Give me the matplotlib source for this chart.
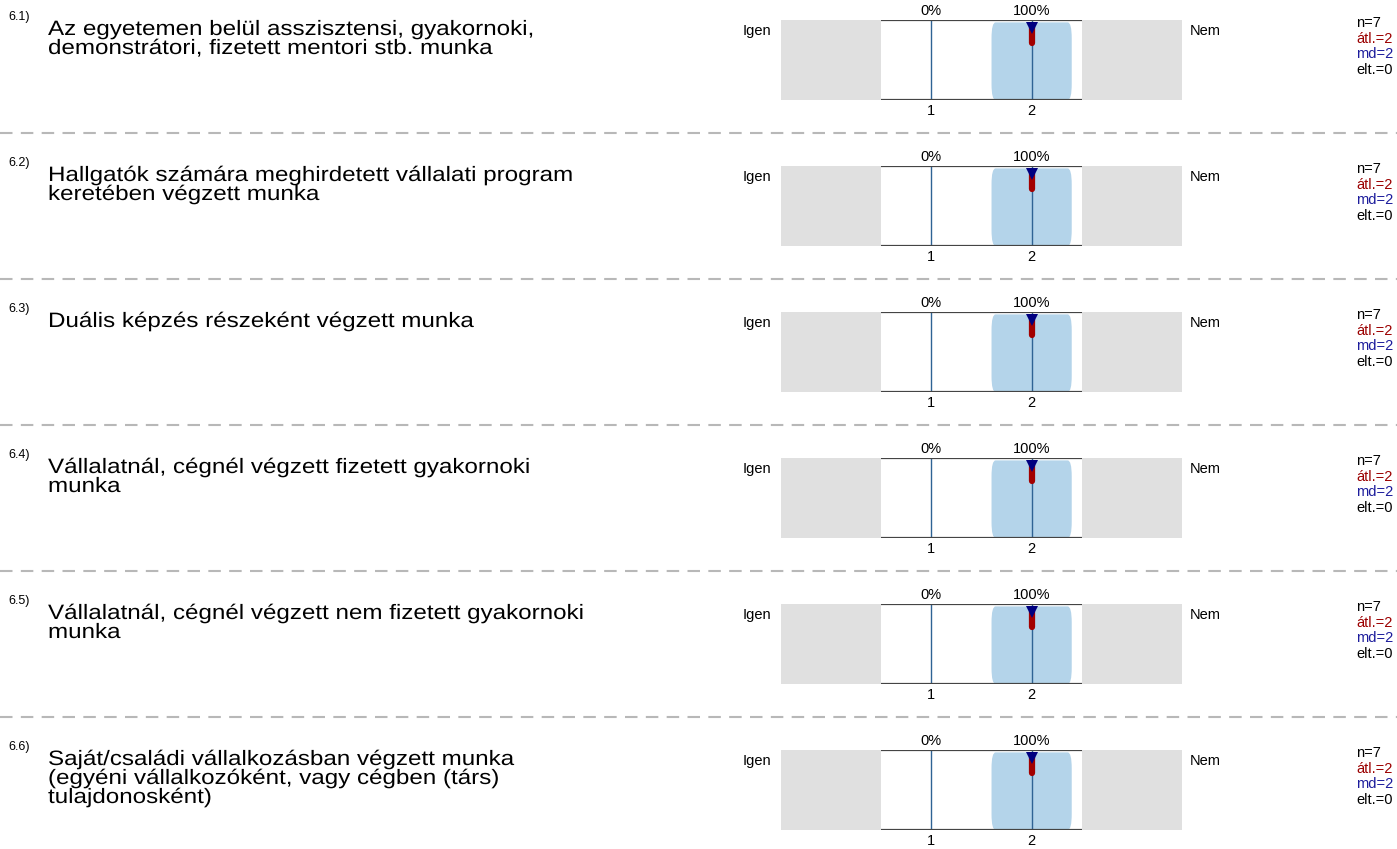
import numpy as np
import matplotlib
matplotlib.use("Agg")
import matplotlib.pyplot as plt
from matplotlib.patches import FancyBboxPatch
from matplotlib.lines import Line2D
from matplotlib import patheffects
from matplotlib.transforms import Affine2D

plt.rcParams['font.family'] = ['Liberation Sans', 'DejaVu Sans']

# --- data ---
numbers = ["6.1)", "6.2)", "6.3)", "6.4)", "6.5)", "6.6)"]
questions = [
    "Az egyetemen belül asszisztensi, gyakornoki,\ndemonstrátori, fizetett mentori stb. munka",
    "Hallgatók számára meghirdetett vállalati program\nkeretében végzett munka",
    "Duális képzés részeként végzett munka",
    "Vállalatnál, cégnél végzett fizetett gyakornoki\nmunka",
    "Vállalatnál, cégnél végzett nem fizetett gyakornoki\nmunka",
    "Saját/családi vállalkozásban végzett munka\n(egyéni vállalkozóként, vagy cégben (társ)\ntulajdonosként)",
]
scale_values = [1, 2]
pct_1 = [0, 0, 0, 0, 0, 0]
pct_2 = [100, 100, 100, 100, 100, 100]
n_resp = [7, 7, 7, 7, 7, 7]
means = [2, 2, 2, 2, 2, 2]
medians = [2, 2, 2, 2, 2, 2]
stdevs = [0, 0, 0, 0, 0, 0]
left_label = "Igen"
right_label = "Nem"


class Widen(patheffects.AbstractPathEffect):
    # question text in the reference is a little wider than Arial
    def __init__(self, sx):
        super().__init__()
        self.sx = sx

    def draw_path(self, renderer, gc, tpath, affine, rgbFace=None):
        renderer.draw_path(gc, tpath, Affine2D().scale(self.sx, 1) + affine, rgbFace)


W, H = 1397, 849
fig = plt.figure(figsize=(W / 100, H / 100), dpi=100)

row_step = 146
first_top = 20
box_h = 80

gray = '#e0e0e0'
bar_blue = '#b4d4ea'
line_blue = '#2f6394'
mean_red = '#a30000'
med_blue = '#000080'

for i in range(len(questions)):
    top = first_top + row_step * i
    ax = fig.add_axes([781 / W, 1 - (top + box_h) / H, 401 / W, box_h / H])
    ax.set_xlim(-0.5, 3.5)
    ax.set_ylim(0, 1)
    for s in ax.spines.values():
        s.set_visible(False)

    ax.axvspan(-0.5, 0.5, color=gray, lw=0)
    ax.axvspan(2.5, 3.5, color=gray, lw=0)

    pcts = [pct_1[i], pct_2[i]]
    for v, p in zip(scale_values, pcts):
        if p > 0:
            bar = FancyBboxPatch((v - 0.4, 0), 0.8, p / 100 * 0.97,
                                 boxstyle="round,pad=0,rounding_size=0.04",
                                 mutation_aspect=5, fc=bar_blue, ec='none')
            ax.add_patch(bar)
        ax.text(v, 1.03, f"{p}%", ha='center', va='bottom', fontsize=10.5)

    ax.vlines(scale_values, 0, 1, color=line_blue, lw=1)
    ax.hlines([0, 1], 0.5, 2.5, color='#444444', lw=1.6)

    # mean (red bar) and median (navy triangle)
    ax.plot([means[i], means[i]], [0.915, 0.71], color=mean_red, lw=4.5,
            solid_capstyle='round')
    ax.plot(medians[i], 0.9, marker='v', color=med_blue, ms=9, mew=0)

    ax.set_xticks(scale_values)
    ax.set_xticklabels([str(v) for v in scale_values], fontsize=10.5)
    ax.tick_params(axis='x', length=0, pad=3)
    ax.set_yticks([])

    ax.text(-0.6, 0.866, left_label, ha='right', va='center', fontsize=10.5)
    ax.text(3.58, 0.866, right_label, ha='left', va='center', fontsize=10.5)

    stats = [(f"n={n_resp[i]}", 'black'), (f"átl.={means[i]}", '#9b0000'),
             (f"md={medians[i]}", '#1c1c9c'), (f"elt.={stdevs[i]}", 'black')]
    for k, (txt, col) in enumerate(stats):
        ax.text(5.24, 0.96 - 0.195 * k, txt, ha='left', va='center',
                fontsize=10.5, color=col, clip_on=False)

    fig.text(8 / W, 1 - (top - 3) / H, numbers[i], ha='left', va='center', fontsize=9)
    fig.text(48 / W, 1 - top / H, questions[i], ha='left', va='top',
             fontsize=15, linespacing=1.0, path_effects=[Widen(1.16)])

    if i < len(questions) - 1:
        y = 1 - (top + 112.5) / H
        fig.add_artist(Line2D([0, 1], [y, y], transform=fig.transFigure,
                              color='#b8b8b8', lw=1.5, dashes=(6, 4)))

fig.savefig("out.png", dpi=100)
